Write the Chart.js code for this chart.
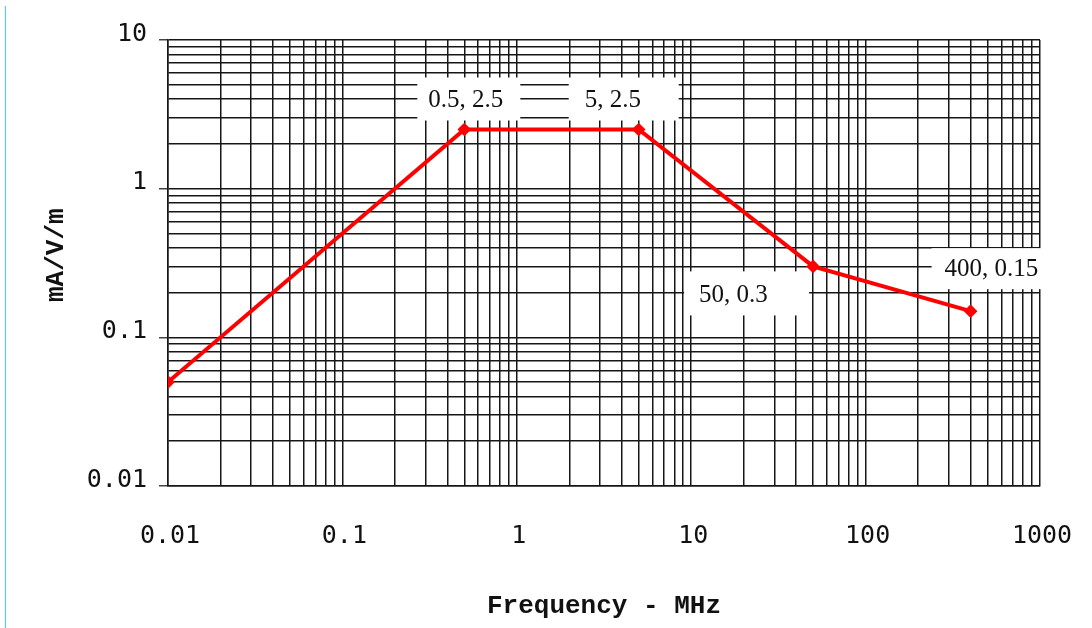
<!DOCTYPE html>
<html>
<head>
<meta charset="utf-8">
<title>mA/V/m vs Frequency</title>
<script src="https://cdn.jsdelivr.net/npm/chart.js@4.4.0/dist/chart.umd.min.js"></script>
<style>
  html, body { margin: 0; padding: 0; background: #fff; }
  #wrap { position: relative; width: 1092px; height: 628px; }
  #edge { position: absolute; left: 5px; top: 6px; width: 1px; height: 622px; background: #33dde8; }
</style>
</head>
<body>
<div id="wrap">
  <canvas id="chart" width="1092" height="628"></canvas>
  <div id="edge"></div>
</div>
<script>
// limit curve, frequency in MHz vs mA/V/m
const freqMHz = [0.01, 0.5, 5, 50, 400];
const fieldMA = [0.05, 2.5, 2.5, 0.3, 0.15];

const xDecades    = [0.01, 0.1, 1, 10, 100, 1000];
const xTickLabels = ['0.01', '0.1', '1', '10', '100', '1000'];
const yDecades    = [0.01, 0.1, 1, 10];
const yTickLabels = ['0.01', '0.1', '1', '10'];

// where each point label sits, relative to its point (px)
const labelBoxes = [
  null,
  { dx: -36,  dy: -29, bx: -47,  by: -52, bw: 103, bh: 43 },
  { dx: -54,  dy: -29, bx: -70,  by: -52, bw: 110, bh: 43 },
  { dx: -114, dy: 29,  bx: -129, by: 5,   bw: 125, bh: 44 },
  { dx: -26,  dy: -42, bx: -39,  by: -63, bw: 115, bh: 41 },
];

const GRID = '#161616';

// 1..9 grid lines in every decade
function logGrid(decades) {
  const out = [];
  for (let i = 0; i < decades.length - 1; i++) {
    for (let m = 1; m <= 9; m++) out.push(+(decades[i] * m).toPrecision(6));
  }
  out.push(decades[decades.length - 1]);
  return out;
}

function decadeIndex(v, decades) {
  return decades.findIndex((d) => Math.abs(v / d - 1) < 1e-6);
}

const pointLabels = {
  id: 'pointLabels',
  beforeDatasetsDraw(chart) {
    const { ctx } = chart;
    const pts = chart.getDatasetMeta(0).data;
    ctx.save();
    ctx.font = '25px "Liberation Serif", "Times New Roman", serif';
    ctx.textBaseline = 'middle';
    ctx.textAlign = 'left';
    pts.forEach((p, i) => {
      const b = labelBoxes[i];
      if (!b) return;
      ctx.fillStyle = '#fff';
      ctx.fillRect(p.x + b.bx, p.y + b.by, b.bw, b.bh);
      ctx.fillStyle = '#111';
      ctx.fillText(`${freqMHz[i]}, ${fieldMA[i]}`, p.x + b.dx, p.y + b.dy);
    });
    ctx.restore();
  },
};

new Chart(document.getElementById('chart'), {
  type: 'scatter',
  data: {
    datasets: [{
      data: freqMHz.map((f, i) => ({ x: f, y: fieldMA[i] })),
      showLine: true,
      borderColor: '#ff0000',
      backgroundColor: '#ff0000',
      borderWidth: 4,
      pointStyle: 'rectRot',
      pointRadius: 4,
      pointHoverRadius: 4,
      tension: 0,
    }],
  },
  options: {
    responsive: false,
    animation: false,
    layout: { padding: { left: 0, right: 52, top: 40, bottom: 0 } },
    plugins: { legend: { display: false }, tooltip: { enabled: false } },
    scales: {
      x: {
        type: 'logarithmic',
        min: 0.01,
        max: 1000,
        afterBuildTicks: (s) => { s.ticks = logGrid(xDecades).map((v) => ({ value: v })); },
        afterFit: (s) => { s.height = 142; s.paddingLeft = 0; s.paddingRight = 0; },
        grid: { color: GRID, lineWidth: 1.5, drawTicks: false },
        border: { color: GRID, width: 1.5 },
        ticks: {
          autoSkip: false,
          maxRotation: 0,
          padding: 35,
          labelOffset: 2,
          color: '#111',
          font: { family: '"DejaVu Sans Mono", monospace', size: 25 },
          callback: (v) => {
            const k = decadeIndex(v, xDecades);
            return k < 0 ? '' : xTickLabels[k];
          },
        },
        title: {
          display: true,
          text: 'Frequency - MHz',
          color: '#111',
          font: { family: '"Liberation Mono", "Courier New", monospace', size: 26, weight: 'bold' },
          padding: { top: 0, bottom: 6 },
        },
      },
      y: {
        type: 'logarithmic',
        min: 0.01,
        max: 10,
        afterBuildTicks: (s) => { s.ticks = logGrid(yDecades).map((v) => ({ value: v })); },
        afterFit: (s) => { s.width = 168; },
        grid: {
          color: GRID,
          lineWidth: 1.5,
          tickLength: 9,
          tickColor: (c) => (c.tick && decadeIndex(c.tick.value, yDecades) >= 0 ? '#444' : 'rgba(0,0,0,0)'),
        },
        border: { color: GRID, width: 1.5 },
        ticks: {
          autoSkip: false,
          padding: 12,
          labelOffset: -6,
          color: '#111',
          font: { family: '"DejaVu Sans Mono", monospace', size: 25 },
          callback: (v) => {
            const k = decadeIndex(v, yDecades);
            return k < 0 ? '' : yTickLabels[k];
          },
        },
        title: {
          display: true,
          text: ' mA/V/m',
          color: '#111',
          font: { family: '"Liberation Mono", "Courier New", monospace', size: 26, weight: 'bold' },
          padding: { top: 41, bottom: 0 },
        },
      },
    },
  },
  plugins: [pointLabels],
});
</script>
</body>
</html>
